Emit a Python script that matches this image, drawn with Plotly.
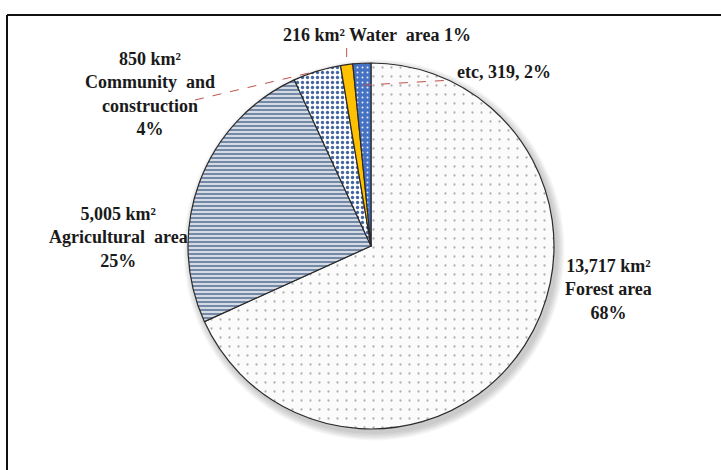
import math
import plotly.graph_objects as go

# Land-use areas (km²)
categories = ["Forest area", "Agricultural area", "Community and construction", "Water area", "etc"]
areas = [13717, 5005, 850, 216, 319]
percent_labels = ["68%", "25%", "4%", "1%", "2%"]

W, H = 721, 470
# pie geometry in pixels
CX, CY, R = 371, 246, 183


def px(x):
    return x / W


def py(y):
    return 1 - y / H


total = sum(areas)
# mid-angle (clockwise from 12 o'clock) of each slice, from the data
mid_angles = []
acc = 0
for v in areas:
    mid_angles.append(360 * (acc + v / 2) / total)
    acc += v


def on_pie(idx, frac=1.0):
    a = math.radians(mid_angles[idx])
    return CX + R * frac * math.sin(a), CY - R * frac * math.cos(a)


fills = ["#fbfbfb", "#ffffff", "#ffffff", "#ffc000", "#4672c4"]

fig = go.Figure(
    go.Pie(
        labels=categories,
        values=areas,
        sort=False,
        direction="clockwise",
        rotation=0,
        textinfo="none",
        hoverinfo="label+value+percent",
        domain=dict(x=[px(CX - R), px(CX + R)], y=[py(CY + R), py(CY - R)]),
        marker=dict(
            colors=fills,
            line=dict(color="#2b2b2b", width=1.2),
            pattern=dict(
                shape=[".", "-", ".", "", "."],
                bgcolor=fills,
                fgcolor=["#b0b0b0", "#7489a6", "#4565a0", "#ffc000", "#e8eefa"],
                size=[9, 4, 5, 6, 5],
                solidity=[0.05, 0.65, 0.35, 0.3, 0.12],
            ),
        ),
    )
)

label_font = dict(family="Liberation Serif, Times New Roman, serif", size=18, color="#1a1a1a")

annotations = [
    dict(x=px(608), y=py(289), text=f"{areas[0]:,} km²<br>Forest area<br>{percent_labels[0]}"),
    dict(x=px(118), y=py(238), text=f"{areas[1]:,} km²<br>Agricultural  area<br>{percent_labels[1]}"),
    dict(x=px(150), y=py(94), text=f"{areas[2]:,} km²<br>Community  and<br>construction<br>{percent_labels[2]}"),
    dict(x=px(377), y=py(35), text=f"{areas[3]:,} km² Water  area {percent_labels[3]}"),
    dict(x=px(504), y=py(72), text=f"etc, {areas[4]:,}, {percent_labels[4]}"),
]
for a in annotations:
    a.update(xref="paper", yref="paper", showarrow=False, align="center",
             xanchor="center", yanchor="middle", font=label_font)
    a["text"] = "<b>" + a["text"].replace("<br>", "</b><br><b>") + "</b>"

shapes = []

# soft drop shadow under the pie: stacked translucent discs, offset down-right
for k in range(6):
    grow = 1 + k * 1.3
    shapes.append(dict(type="circle", xref="paper", yref="paper", layer="below",
                       x0=px(CX + 3 - R - grow), x1=px(CX + 3 + R + grow),
                       y0=py(CY + 4 + R + grow), y1=py(CY + 4 - R - grow),
                       fillcolor="rgba(0,0,0,0.035)", line=dict(width=0)))

# leader lines (dashed red) from labels to their slices
leader = dict(color="#c0504d", width=1, dash="dash")
x1, y1 = on_pie(2, 1.0)
shapes.append(dict(type="line", xref="paper", yref="paper",
                   x0=px(195), y0=py(100), x1=px(x1), y1=py(y1), line=leader))
x1, y1 = on_pie(3, 1.0)
shapes.append(dict(type="line", xref="paper", yref="paper",
                   x0=px(x1), y0=py(48), x1=px(x1), y1=py(y1), line=leader))
x1, y1 = on_pie(4, 0.88)
shapes.append(dict(type="line", xref="paper", yref="paper",
                   x0=px(x1), y0=py(y1), x1=px(453), y1=py(80), line=leader))

# outer frame (top and left edges)
frame = dict(color="#111111", width=2)
shapes.append(dict(type="line", xref="paper", yref="paper",
                   x0=px(7), y0=py(15), x1=1.01, y1=py(15), line=frame))
shapes.append(dict(type="line", xref="paper", yref="paper",
                   x0=px(7), y0=py(15), x1=px(7), y1=-0.01, line=frame))

fig.update_layout(
    width=W,
    height=H,
    margin=dict(l=0, r=0, t=0, b=0),
    paper_bgcolor="white",
    plot_bgcolor="white",
    showlegend=False,
    annotations=annotations,
    shapes=shapes,
)

fig.write_html("out.html")
